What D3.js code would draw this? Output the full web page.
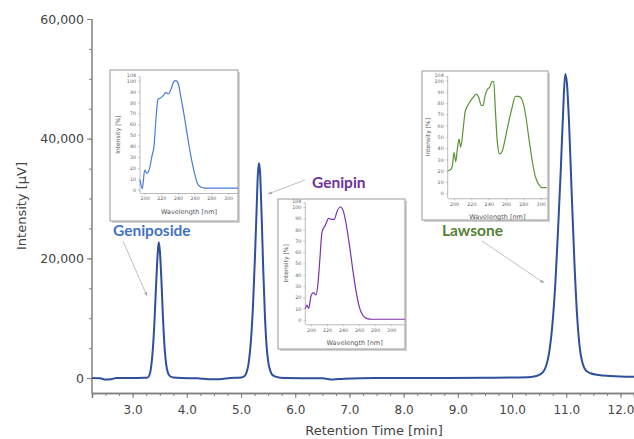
<!DOCTYPE html>
<html>
<head>
<meta charset="utf-8">
<script src="https://cdn.jsdelivr.net/npm/d3@7"></script>
<style>
  html, body { margin: 0; padding: 0; background: #fff; }
  svg { display: block; }
</style>
</head>
<body>
<div id="chart"></div>
<script>
// Cromatograma: [tiempo (min), intensidad (µV)]
const chromatogram = [
  [2.25, 0], [2.4, -50], [2.5, -250], [2.6, -200], [2.7, 0], [3.0, 0], [3.2, 50],
  [3.28, 100], [3.31, 500], [3.34, 1800], [3.37, 4500], [3.4, 9000], [3.43, 15000],
  [3.46, 20500], [3.48, 22700], [3.5, 21500], [3.53, 16500], [3.56, 10000], [3.59, 5000],
  [3.62, 2200], [3.65, 900], [3.69, 300], [3.75, 100], [3.9, 0], [4.2, -50], [4.4, -200],
  [4.6, -200], [4.8, 0], [5.0, 100], [5.06, 300], [5.1, 900], [5.14, 2500], [5.18, 6000],
  [5.22, 12000], [5.26, 21000], [5.29, 29000], [5.31, 34000], [5.33, 35900], [5.35, 34500],
  [5.38, 27000], [5.41, 18000], [5.44, 10500], [5.47, 5500], [5.5, 2800], [5.54, 1200],
  [5.58, 500], [5.65, 200], [5.8, 0], [6.5, -50], [6.7, -250], [6.9, -100], [7.5, 0],
  [8.5, 0], [9.5, 50], [10.3, 150], [10.45, 350], [10.55, 800], [10.62, 1800], [10.68, 4000],
  [10.74, 8500], [10.8, 16000], [10.85, 25000], [10.9, 35000], [10.94, 44000], [10.98, 50800],
  [11.01, 49500], [11.05, 43000], [11.1, 31000], [11.15, 19500], [11.2, 10500], [11.25, 5000],
  [11.3, 2500], [11.36, 1300], [11.45, 800], [11.6, 500], [11.8, 350], [12.0, 250], [12.25, 200]
];

const yTicks = [0, 20000, 40000, 60000];
const xTicks = [3, 4, 5, 6, 7, 8, 9, 10, 11, 12];

// Espectros UV: [longitud de onda (nm), intensidad (%)]
const geniposideSpec = [
  [194.4, 9], [197.2, 1], [200, 18], [202.8, 15], [206, 20], [208.8, 31], [211.2, 40],
  [213.2, 61], [216, 83], [218.8, 84], [222, 86], [225.2, 89], [228.8, 88], [232, 93],
  [234.8, 99], [237.2, 100], [240, 98], [243.2, 86], [247.2, 69], [251.2, 50], [255.2, 32],
  [259.2, 17], [263.2, 6], [267.2, 2.5], [272, 1.5], [284, 1.5], [312, 1.5]
];
const genipinSpec = [
  [193, 10], [195, 13], [197, 10], [200.4, 22], [203, 24], [206.3, 22], [208.8, 33],
  [210.8, 51], [213.8, 78], [218, 84], [222, 90], [225.4, 89], [229, 89], [232.5, 96],
  [236.6, 100], [240, 97], [243.8, 85], [248, 66], [252, 45], [256.3, 25], [260.4, 11],
  [264.6, 4], [270, 1], [276, 0.5], [317, 0.5]
];
const lawsoneSpec = [
  [193, 20], [196, 21], [198, 24], [200, 36], [202, 28], [203.8, 39], [205.8, 48],
  [207.7, 41], [210.4, 56], [213, 73], [216, 78], [220, 83], [223, 86], [225.8, 88],
  [228.5, 85], [231.5, 78], [233.5, 78], [236, 87], [238.5, 92], [241, 94], [243.8, 99],
  [245.8, 99], [247.7, 74], [250, 45], [252.7, 35], [255.4, 37], [259.2, 49], [263, 63],
  [267, 76], [270.8, 86], [274.6, 86], [278.5, 83], [282.3, 71], [286, 51], [290, 30],
  [293.8, 15], [297.7, 8], [301.5, 5], [307, 5]
];
const specXTicks = [200, 220, 240, 260, 280, 300];
const specYTicks = [0, 10, 20, 30, 40, 50, 60, 70, 80, 90, 100];

const width = 634, height = 439;
const axisColor = "#808080", textColor = "#444";
const mainFont = "'DejaVu Sans', Verdana, sans-serif";

const svg = d3.select("#chart").append("svg")
  .attr("width", width).attr("height", height)
  .style("font-family", mainFont);

svg.append("defs").append("marker")
  .attr("id", "arrow")
  .attr("viewBox", "0 -5 10 10")
  .attr("refX", 10).attr("refY", 0)
  .attr("markerWidth", 5).attr("markerHeight", 5)
  .attr("orient", "auto")
  .append("path").attr("d", "M0,-4L10,0L0,4").attr("fill", "#a8a8a8");

const x = d3.scaleLinear().domain([2.25, 12.25]).range([92, 634]);
const y = d3.scaleLinear().domain([-2500, 60000]).range([393, 19]);

// Ejes principales
const gx = svg.append("g").attr("transform", `translate(0,${y(-2500)})`);
gx.call(d3.axisBottom(x).tickValues(d3.range(2.5, 12.21, 0.25)).tickSize(3).tickFormat(""));
gx.call(g => g.append("g").call(d3.axisBottom(x).tickValues(xTicks).tickSize(5).tickFormat(d3.format(".1f"))));
gx.selectAll(".domain").attr("stroke", axisColor).attr("stroke-width", 1.5);
gx.selectAll("line").attr("stroke", axisColor);
gx.selectAll("text").attr("fill", textColor).style("font-family", mainFont).style("font-size", "12px").attr("dy", "1.05em");

const gy = svg.append("g").attr("transform", `translate(${x(2.25)},0)`);
gy.call(d3.axisLeft(y).tickValues(d3.range(0, 60001, 5000)).tickSize(3).tickFormat("").tickSizeOuter(0));
gy.call(g => g.append("g").call(d3.axisLeft(y).tickValues(yTicks).tickSize(5).tickFormat(d3.format(",")).tickSizeOuter(0)));
gy.selectAll(".domain").attr("stroke", axisColor).attr("stroke-width", 1.5);
gy.select(".domain").attr("d", `M0,${y(60000)}V${y(-2500)}`);
gy.selectAll("g > g .domain").remove();
gy.selectAll("line").attr("stroke", axisColor);
gy.selectAll("text").attr("fill", textColor).style("font-family", mainFont).style("font-size", "12.5px");

svg.append("text")
  .attr("transform", `translate(26,${(y(60000) + y(-2500)) / 2}) rotate(-90)`)
  .attr("text-anchor", "middle").attr("fill", textColor)
  .style("font-family", mainFont)
  .style("font-size", "13px").text("Intensity [µV]");
svg.append("text")
  .attr("x", 374).attr("y", 435)
  .attr("text-anchor", "middle").attr("fill", textColor)
  .style("font-family", mainFont)
  .style("font-size", "13px").text("Retention Time [min]");

// Curva del cromatograma
svg.append("path")
  .datum(chromatogram)
  .attr("fill", "none")
  .attr("stroke", "#2f4f9c")
  .attr("stroke-width", 2)
  .attr("stroke-linejoin", "round")
  .attr("d", d3.line().x(d => x(d[0])).y(d => y(d[1])).curve(d3.curveMonotoneX));

// Recuadros con espectros
const insets = [
  { data: geniposideSpec, color: "#4a7bd6", box: [110, 70, 128, 151], xr: [140, 238], xd: [194.4, 312], yr: [193, 76.3], yd: [-3, 104], labX: 118 },
  { data: genipinSpec, color: "#7b32b0", box: [278, 199, 127, 150], xr: [305.3, 404], xd: [192.9, 316], yr: [324.3, 202.5], yd: [-4, 104], labX: 286 },
  { data: lawsoneSpec, color: "#5a9234", box: [422, 71, 126, 149], xr: [447.7, 547], xd: [192.7, 307.3], yr: [198.3, 76], yd: [-4.4, 104], labX: 428 }
];

insets.forEach(ins => {
  const [bx, by, bw, bh] = ins.box;
  const g = svg.append("g");
  g.append("rect").attr("x", bx + 2).attr("y", by + 2).attr("width", bw).attr("height", bh).attr("fill", "#d4d4d4");
  g.append("rect").attr("x", bx).attr("y", by).attr("width", bw).attr("height", bh)
    .attr("fill", "#fff").attr("stroke", "#9a9a9a").attr("stroke-width", 1);

  const sx = d3.scaleLinear().domain(ins.xd).range(ins.xr);
  const sy = d3.scaleLinear().domain(ins.yd).range(ins.yr);

  const ax = g.append("g").attr("transform", `translate(0,${ins.yr[0]})`)
    .call(d3.axisBottom(sx).tickValues(specXTicks).tickSize(2).tickSizeOuter(0).tickPadding(2));
  const ay = g.append("g").attr("transform", `translate(${ins.xr[0]},0)`)
    .call(d3.axisLeft(sy).tickValues(specYTicks.concat([104])).tickSize(2).tickSizeOuter(0).tickPadding(2));
  [ax, ay].forEach(a => {
    a.select(".domain").attr("stroke", "#aaa").attr("stroke-width", 0.8);
    a.selectAll("line").attr("stroke", "#aaa").attr("stroke-width", 0.6);
    a.selectAll("text").attr("fill", "#666").style("font-family", mainFont).style("font-size", "4.8px");
  });
  ay.select(".domain").attr("d", `M0,${ins.yr[0]}V${ins.yr[1]}`);
  // "104" un poco más arriba, como en el original
  ay.selectAll(".tick").filter(d => d === 104).select("text").attr("dy", "0.1em");

  g.append("path")
    .datum(ins.data)
    .attr("fill", "none")
    .attr("stroke", ins.color)
    .attr("stroke-width", 1.2)
    .attr("d", d3.line().x(d => sx(d[0])).y(d => sy(d[1])).curve(d3.curveMonotoneX));

  g.append("text")
    .attr("x", (ins.xr[0] + ins.xr[1]) / 2).attr("y", ins.yr[0] + 21)
    .attr("text-anchor", "middle").attr("fill", "#555")
    .style("font-size", "6.5px").text("Wavelength [nm]");
  g.append("text")
    .attr("transform", `translate(${ins.labX},${(ins.yr[0] + ins.yr[1]) / 2}) rotate(-90)`)
    .attr("text-anchor", "middle").attr("dy", "0.35em").attr("fill", "#555")
    .style("font-size", "6px").text("Intensity [%]");
});

// Etiquetas de picos con flechas
const peakLabels = [
  { text: "Geniposide", color: "#4472c4", tx: 113, ty: 236, from: [123, 241], to: [147, 296] },
  { text: "Genipin", color: "#7030a0", tx: 312, ty: 188, from: [305, 180], to: [268, 194] },
  { text: "Lawsone", color: "#548235", tx: 442, ty: 236, from: [482, 241], to: [544, 283] }
];
peakLabels.forEach(p => {
  svg.append("line")
    .attr("x1", p.from[0]).attr("y1", p.from[1]).attr("x2", p.to[0]).attr("y2", p.to[1])
    .attr("stroke", "#b0b0b0").attr("stroke-width", 0.8)
    .attr("marker-end", "url(#arrow)");
  svg.append("text")
    .attr("x", p.tx).attr("y", p.ty)
    .attr("fill", p.color)
    .style("font-family", "Lato, 'Open Sans', sans-serif")
    .style("font-weight", "bold").style("font-size", "15.5px")
    .text(p.text);
});
</script>
</body>
</html>
